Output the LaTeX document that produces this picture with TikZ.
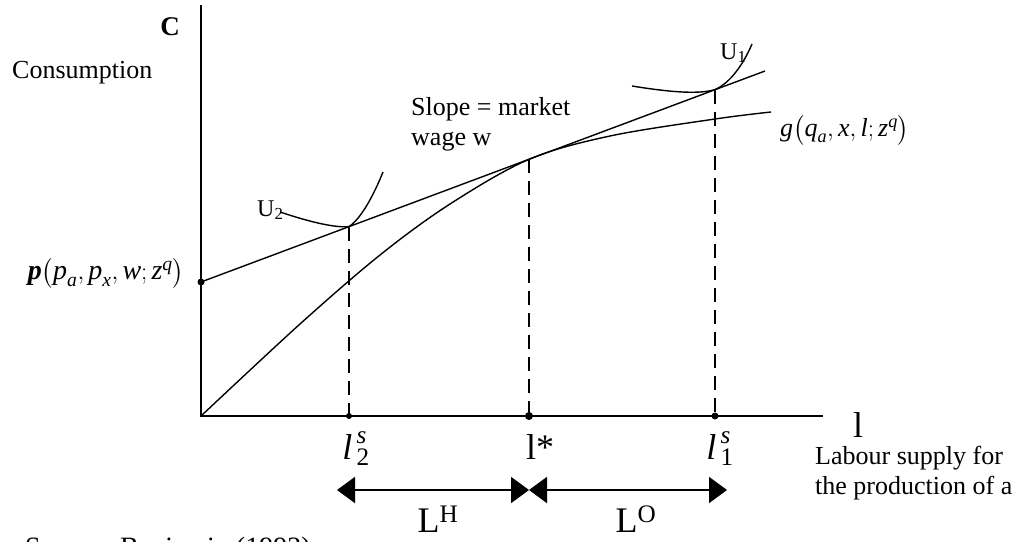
\documentclass[tikz,border=0pt]{standalone}
\usepackage{amsmath}
\usepackage{fontspec}
\setmainfont{Liberation Serif}
\usetikzlibrary{arrows.meta}
\begin{document}
\begin{tikzpicture}[x=1pt,y=-1pt,
  axis/.style={line width=2pt},
  curve/.style={line width=1.4pt},
  guide/.style={line width=1.8pt, dash pattern=on 14pt off 8pt},
  dot/.style={circle, fill=black, inner sep=0pt, minimum size=7pt},
  txt/.style={font=\fontsize{26}{30}\selectfont, inner sep=0pt},
  big/.style={font=\fontsize{36}{40}\selectfont, inner sep=0pt},
  span/.style={line width=2pt, {Triangle[length=18pt,width=26pt]}-{Triangle[length=18pt,width=26pt]}}
]
\clip (0,0) rectangle (1024,541);
\useasboundingbox (0,0) rectangle (1024,541);
% key points
\coordinate (O) at (201,416);
\coordinate (Ytop) at (201,5);
\coordinate (Xend) at (823,416);
\coordinate (P) at (201,282);
\coordinate (Bend) at (765,71);
\coordinate (A) at (349,226.6);
\coordinate (S) at (529,159.3);
\coordinate (B) at (715,89.6);
\coordinate (A0) at (349,416);
\coordinate (S0) at (529,416);
\coordinate (B0) at (715,416);
\coordinate (U2s) at (280,212);
\coordinate (U2e) at (383,172);
\coordinate (U1s) at (632,86);
\coordinate (U1e) at (752,44);
\coordinate (Lt) at (337,490);
\coordinate (Mid) at (529,490);
\coordinate (Rt) at (727,490);
% axes
\draw[axis] (Ytop) -- (O) -- (Xend);
% guides
\draw[guide] (A) -- (A0);
\draw[guide] (S) -- (S0);
\draw[guide] (B) -- (B0);
% budget line
\draw[curve] (P) -- (Bend);
% production function
\draw[curve] plot[smooth, tension=0.55] coordinates {(201,416) (300,324) (380,255) (450,204) (529,159.3) (610,136) (715,119) (771,112)};
% indifference curves
\draw[curve] (U2s) .. controls (310,222) and (335,228) .. (A) .. controls (362,218) and (375,192) .. (U2e);
\draw[curve] (U1s) .. controls (675,93) and (700,94) .. (B) .. controls (730,83) and (743,65) .. (U1e);
% dots
\node[dot] (dP) at (P) {};
\node[dot, minimum size=6pt] (dA) at (A0) {};
\node[dot, minimum size=8pt] (dS) at (S0) {};
\node[dot, minimum size=7pt] (dB) at (B0) {};
% span arrows
\draw[span] (Lt) -- (Mid);
\draw[span] (Mid) -- (Rt);
% labels
\node[txt, font=\fontsize{27}{30}\selectfont\bfseries, anchor=base] (lC) at (170,35) {C};
\node[txt, anchor=base west] (lCons) at (12,78) {Consumption};
\node[txt, font=\fontsize{28}{30}\selectfont] (lp) at (106,273) {$\textbf{\textit{p}}\bigl(\textit{p}_{\textit{a}},\textit{p}_{\textit{x}},\textit{w};\textit{z}^{\textit{q}}\bigr)$};
\node[txt, align=left, anchor=north west] (lslope) at (411,97) {Slope = market\\wage w};
\node[txt, font=\fontsize{24}{26}\selectfont, anchor=base west] (lU2) at (257,216) {U$_{\text{2}}$};
\node[txt, font=\fontsize{24}{26}\selectfont, anchor=base west] (lU1) at (720,59) {U$_{\text{1}}$};
\node[txt, anchor=west] (lg) at (780,130) {$\textit{g}\bigl(\textit{q}_{\textit{a}},\textit{x},\textit{l};\textit{z}^{\textit{q}}\bigr)$};
\node[big, anchor=base] (ll) at (858,437) {l};
\node[txt, align=left, anchor=north west] (lLab) at (815,446) {Labour supply for\\the production of a};
\node[big, anchor=base] (l2) at (356,459) {$\textit{l}_{\,\text{2}}^{\,\textit{s}}$};
\node[big, anchor=base] (lstar) at (540,459) {l*};
\node[big, anchor=base] (l1) at (720,459) {$\textit{l}_{\,\text{1}}^{\,\textit{s}}$};
\node[big, anchor=base] (LH) at (438,532) {L$^{\text{H}}$};
\node[big, anchor=base] (LO) at (636,532) {L$^{\text{O}}$};
\node[txt, font=\fontsize{28}{32}\selectfont, anchor=base west] (src) at (25,556) {Source: Benjamin (1992)};
\end{tikzpicture}
\end{document}
